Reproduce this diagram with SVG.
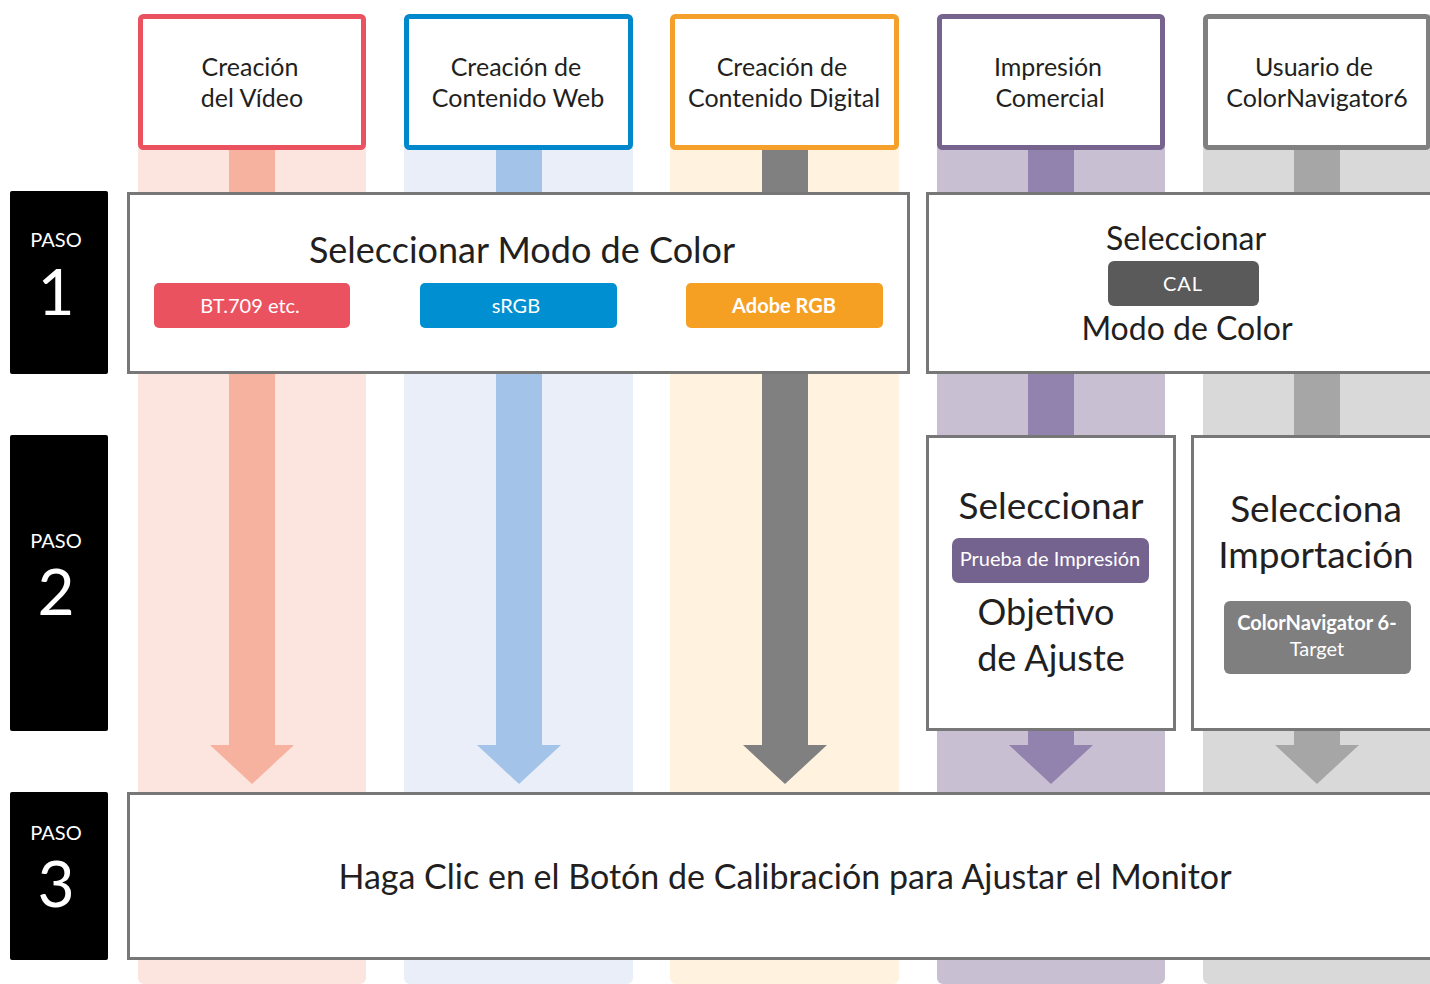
<svg xmlns="http://www.w3.org/2000/svg" width="1430" height="984" viewBox="0 0 1430 984">
<style>
text{font-family:Lato,"Open Sans","Liberation Sans",sans-serif;fill:#231f20;text-anchor:middle}
.top{fill:#fff;stroke-width:5}
.step{fill:#fff;stroke:#777;stroke-width:3}
.lbl{fill:#000}
.paso{fill:#fff;font-size:20px}
.num{fill:#fff;font-size:64px}
.tt{font-size:25px}
.big{font-size:36px}
.mid{font-size:32px}
.s2{font-size:37px}
.pill{fill:#fff;font-size:20px}
</style>
<rect width="1430" height="984" fill="#fff"/>
<g id="bands">
<rect x="138" y="14" width="228" height="970" rx="6" fill="#fce4df"/>
<rect x="404" y="14" width="229" height="970" rx="6" fill="#e9eef8"/>
<rect x="670" y="14" width="229" height="970" rx="6" fill="#fff3df"/>
<rect x="937" y="14" width="228" height="970" rx="6" fill="#c9bfd3"/>
<rect x="1203" y="14" width="240" height="970" rx="6" fill="#d9d9d9"/>
</g>
<g id="connectors">
<polygon points="229,150 275,150 275,745 294,745 252,784 210,745 229,745" fill="#f7b19f"/>
<polygon points="496,150 542,150 542,745 561,745 519,784 477,745 496,745" fill="#a3c4e8"/>
<polygon points="762,150 808,150 808,745 827,745 785,784 743,745 762,745" fill="#808080"/>
<polygon points="1028,150 1074,150 1074,745 1093,745 1051,784 1009,745 1028,745" fill="#9282ae"/>
<polygon points="1294,150 1340,150 1340,745 1359,745 1317,784 1275,745 1294,745" fill="#a6a6a6"/>
</g>
<g id="top-video">
<rect class="top" x="140.5" y="16.5" width="223" height="131" rx="3" stroke="#e9525e"/>
<text class="tt" x="250" y="76">Creación</text>
<text class="tt" x="252" y="107">del Vídeo</text>
</g>
<g id="top-web">
<rect class="top" x="406.5" y="16.5" width="224" height="131" rx="3" stroke="#0088cc"/>
<text class="tt" x="516" y="76">Creación de</text>
<text class="tt" x="518" y="107">Contenido Web</text>
</g>
<g id="top-digital">
<rect class="top" x="672.5" y="16.5" width="224" height="131" rx="3" stroke="#f5a02a"/>
<text class="tt" x="782" y="76">Creación de</text>
<text class="tt" x="784" y="107">Contenido Digital</text>
</g>
<g id="top-print">
<rect class="top" x="939.5" y="16.5" width="223" height="131" rx="3" stroke="#76648f"/>
<text class="tt" x="1048" y="76">Impresión</text>
<text class="tt" x="1050" y="107">Comercial</text>
</g>
<g id="top-cn6">
<rect class="top" x="1205.5" y="16.5" width="223" height="131" rx="3" stroke="#808080"/>
<text class="tt" x="1314" y="76">Usuario de</text>
<text class="tt" x="1317" y="107">ColorNavigator6</text>
</g>
<g id="paso1">
<rect class="lbl" x="10" y="191" width="98" height="183" rx="2"/>
<text class="paso" x="56" y="247">PASO</text>
<text class="num" x="56" y="315">1</text>
</g>
<g id="paso2">
<rect class="lbl" x="10" y="435" width="98" height="296" rx="2"/>
<text class="paso" x="56" y="548">PASO</text>
<text class="num" x="56" y="615">2</text>
</g>
<g id="paso3">
<rect class="lbl" x="10" y="792" width="98" height="168" rx="2"/>
<text class="paso" x="56" y="840">PASO</text>
<text class="num" x="56" y="907">3</text>
</g>
<g id="step1-mode">
<rect class="step" x="128.5" y="193.5" width="780" height="179"/>
<text class="big" x="522" y="263">Seleccionar Modo de Color</text>
<rect x="154" y="283" width="196" height="45" rx="5" fill="#ea5260"/>
<text class="pill" x="250" y="313">BT.709 etc.</text>
<rect x="420" y="283" width="197" height="45" rx="5" fill="#008fd0"/>
<text class="pill" x="516" y="313">sRGB</text>
<rect x="686" y="283" width="197" height="45" rx="5" fill="#f5a023"/>
<text class="pill" x="784" y="313" font-weight="bold">Adobe RGB</text>
</g>
<g id="step1-cal">
<rect class="step" x="927.5" y="193.5" width="560" height="179"/>
<text class="mid" x="1186" y="250">Seleccionar</text>
<rect x="1108" y="261" width="151" height="45" rx="6" fill="#5a5a5a"/>
<text class="pill" x="1183" y="291" fill="#eee" letter-spacing="1">CAL</text>
<text class="mid" x="1187" y="340">Modo de Color</text>
</g>
<g id="step2-target">
<rect class="step" x="927.5" y="436.5" width="247" height="293"/>
<text class="s2" x="1051" y="519">Seleccionar</text>
<rect x="952" y="538" width="197" height="45" rx="7" fill="#75638f"/>
<text class="pill" x="1050" y="566" font-size="19">Prueba de Impresión</text>
<text x="1046" y="625" font-size="36">Objetivo</text>
<text x="1051" y="671" font-size="36">de Ajuste</text>
</g>
<g id="step2-import">
<rect class="step" x="1192.5" y="436.5" width="300" height="293"/>
<text class="s2" x="1316" y="522">Selecciona</text>
<text class="s2" x="1316" y="568">Importación</text>
<rect x="1224" y="601" width="187" height="73" rx="6" fill="#7f7f7f"/>
<text class="pill" x="1317" y="630" font-size="17" font-weight="bold">ColorNavigator 6-</text>
<text class="pill" x="1317" y="656" font-size="17">Target</text>
</g>
<g id="step3-calibrate">
<rect class="step" x="128.5" y="793.5" width="1400" height="165"/>
<text x="785" y="889" font-size="34">Haga Clic en el Botón de Calibración para Ajustar el Monitor</text>
</g>
</svg>
